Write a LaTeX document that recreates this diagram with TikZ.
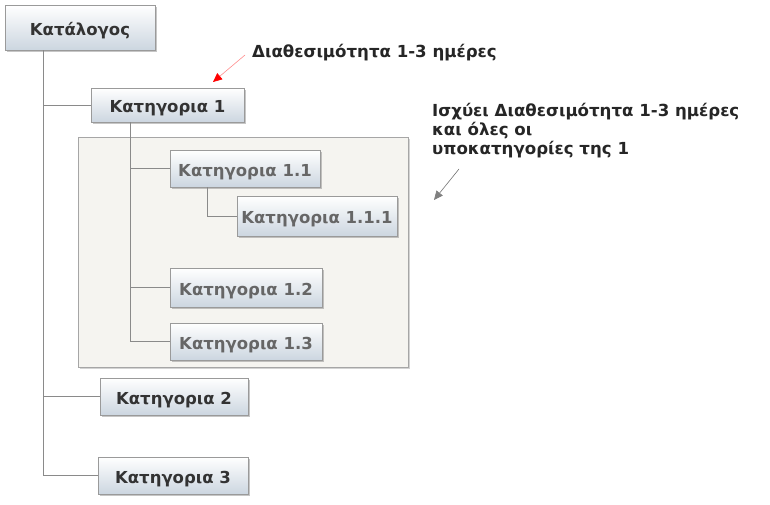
\documentclass[tikz,border=0pt]{standalone}
\usepackage{fontspec}
\setmainfont{DejaVu Sans}
\usetikzlibrary{shadows,arrows.meta}
\definecolor{boxbot}{HTML}{CCD6E0}
\definecolor{boxline}{HTML}{9A9A9A}
\definecolor{txtmain}{HTML}{333333}
\definecolor{txtfade}{HTML}{666666}
\definecolor{grpfill}{HTML}{F5F4F0}
\definecolor{conn}{HTML}{8A8A8A}
\begin{document}
\begin{tikzpicture}[x=1pt,y=-1pt,
  catbox/.style={draw=boxline, line width=0.6pt, top color=white, bottom color=boxbot,
    drop shadow={shadow xshift=1.8pt, shadow yshift=-1.8pt, opacity=0.45},
    font=\bfseries\fontsize{16.5}{18}\selectfont, text=txtmain, inner sep=0pt,
    text height=15pt, text depth=0pt},
  fadebox/.style={catbox, text=txtfade},
  conline/.style={draw=conn, line width=0.6pt},
  note/.style={font=\bfseries\fontsize{16.6}{19}\selectfont, text=black!85, align=left, inner sep=0pt}
]
\useasboundingbox (0,0) rectangle (770,504);
% group background
\node[draw=black!35, fill=grpfill, line width=0.8pt, minimum width=330pt, minimum height=230pt,
  drop shadow={shadow xshift=1.8pt, shadow yshift=-1.8pt, opacity=0.35}] (grp) at (243,252) {};

\node[catbox, minimum width=150pt, minimum height=45pt] (cat) at (80,27.5) {Κατάλογος};
\node[catbox, minimum width=153pt, minimum height=34pt] (k1) at (167.5,105) {Κατηγορια 1};
\node[fadebox, minimum width=150pt, minimum height=37pt] (k11) at (245,168.5) {Κατηγορια 1.1};
\node[fadebox, minimum width=160pt, minimum height=40pt] (k111) at (317,216) {Κατηγορια 1.1.1};
\node[fadebox, minimum width=152pt, minimum height=39pt] (k12) at (246,287.5) {Κατηγορια 1.2};
\node[fadebox, minimum width=152pt, minimum height=37pt] (k13) at (246,341.5) {Κατηγορια 1.3};
\node[catbox, minimum width=148pt, minimum height=37pt] (k2) at (174,396.5) {Κατηγορια 2};
\node[catbox, minimum width=150pt, minimum height=37pt] (k3) at (173,475.5) {Κατηγορια 3};

% connectors
\coordinate (t0) at ([xshift=-37pt]cat.south);
\path[conline] (t0) |- (k1.west);
\path[conline] (t0) |- (k2.west);
\path[conline] (t0) |- (k3.west);
\coordinate (t1) at ([xshift=-37.5pt]k1.south);
\path[conline] (t1) |- (k11.west);
\path[conline] (t1) |- (k12.west);
\path[conline] (t1) |- (k13.west);
\coordinate (t2) at ([xshift=-38pt]k11.south);
\path[conline] (t2) |- (k111.west);

% annotations
\node[note, anchor=base west] (n1) at (252,57) {Διαθεσιμότητα 1-3 ημέρες};
\node[note, anchor=west] (n2) at (432,131) {Ισχύει Διαθεσιμότητα 1-3 ημέρες\\και όλες οι\\υποκατηγορίες της 1};
\coordinate (a1s) at (245,55);
\coordinate (a1e) at (213,82);
\draw[draw=red!45, line width=0.6pt, -{Triangle[length=9pt,width=8pt,color=red]}] (a1s) -- (a1e);
\coordinate (a2s) at (459,169);
\coordinate (a2e) at (434,200);
\draw[draw=black!55, line width=0.6pt, -{Triangle[length=9pt,width=8pt,color=black!50]}] (a2s) -- (a2e);
\end{tikzpicture}
\end{document}
